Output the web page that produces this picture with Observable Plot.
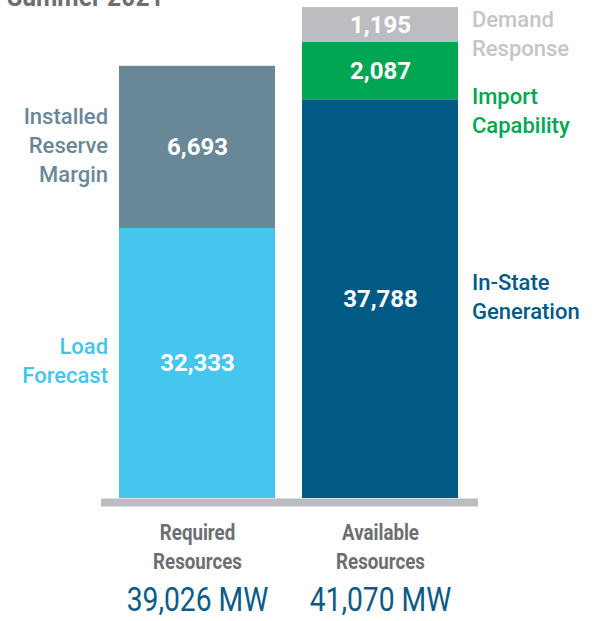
<!DOCTYPE html>
<html><head><meta charset="utf-8">
<script src="https://cdn.jsdelivr.net/npm/d3@7"></script>
<script src="https://cdn.jsdelivr.net/npm/@observablehq/plot@0.6"></script>
<style>
html,body{margin:0;padding:0;background:#fff;overflow:hidden}
#wrap{position:relative;width:596px;height:621px;overflow:hidden}
#title{position:absolute;left:7px;top:-17px;margin:0;font:700 28px/28px Roboto,sans-serif;color:#6d6e71;transform:scaleX(0.88);transform-origin:left top;white-space:nowrap}
#chart{position:absolute;left:0;top:0}
</style></head><body>
<div id="wrap"><div id="chart"></div><h2 id="title"></h2></div>
<script>
// ---- data ----
const titleText = "Summer 2021";
const categories = ["Required Resources", "Available Resources"];
const categoryLabels = ["Required\nResources", "Available\nResources"];
const segmentNames = ["Load Forecast", "Installed Reserve Margin", "In-State Generation", "Import Capability", "Demand Response"];
const segmentCategory = ["Required Resources", "Required Resources", "Available Resources", "Available Resources", "Available Resources"];
const segmentValues = [32333, 6693, 37788, 2087, 1195];
const segmentLabels = ["Load\nForecast", "Installed\nReserve\nMargin", "In-State\nGeneration", "Import\nCapability", "Demand\nResponse"];
const totals = [39026, 41070];
const unit = "MW";

// ---- styles ----
const segmentColors = ["#45c6ee", "#688898", "#005a85", "#00a651", "#bcbdc0"];
const labelColors = ["#45c5ec", "#6a8898", "#005a87", "#00a651", "#c4c5c8"];

const W = 596, H = 621;
const mL = 91, mR = 110, mT = 7, mB = 123;
const pad = 0.147;
const labelSize = 22, labelLH = 1.32, labelGap = 19;

document.getElementById("title").textContent = titleText;

const segments = segmentNames.map((name, i) => ({
  name, cat: segmentCategory[i], value: segmentValues[i],
  label: segmentLabels[i], color: segmentColors[i], labelColor: labelColors[i]
}));
// cumulative stack bounds per category
const acc = new Map();
for (const s of segments) {
  const base = acc.get(s.cat) || 0;
  s.y1 = base; s.y2 = base + s.value;
  acc.set(s.cat, s.y2);
}
const maxTotal = d3.max(acc.values());

const ys = Plot.scale({y: {type: "pow", exponent: 2.5, domain: [0, maxTotal], range: [H - mB, mT]}});
const xs = Plot.scale({x: {type: "band", domain: categories, range: [mL, W - mR], padding: pad}});
const bw = xs.bandwidth;
for (const s of segments) {
  s.py = (ys.apply(s.y1) + ys.apply(s.y2)) / 2;
  s.mid = ys.invert(s.py);
}

// side labels: centred on their segment, pushed down to avoid overlapping (top-down pass)
const lineH = labelSize * labelLH;
for (const cat of categories) {
  const segs = segments.filter(s => s.cat === cat).sort((a, b) => ys.apply(a.y2) - ys.apply(b.y2));
  let prev = null;
  for (const s of segs) {
    const n = s.label.split("\n").length;
    let c = Math.max(s.py - 4, ys.apply(s.y2) + n * lineH / 2 - 4);
    if (prev) c = Math.max(c, prev.c + (prev.n + n) * lineH / 2 + labelGap);
    s.labelY = ys.invert(c);
    prev = {c, n};
  }
}

const fmt = d3.format(",");
const leftSegs = segments.filter(s => s.cat === categories[0]);
const rightSegs = segments.filter(s => s.cat === categories[1]);

const plot = Plot.plot({
  width: W, height: H,
  marginLeft: mL, marginRight: mR, marginTop: mT, marginBottom: mB,
  x: {type: "band", domain: categories, padding: pad, axis: null},
  y: {type: "pow", exponent: 2.5, domain: [0, maxTotal], axis: null},
  color: {type: "identity"},
  style: {fontFamily: "Roboto, sans-serif", background: "white"},
  marks: [
    Plot.barY(segments, {x: "cat", y1: "y1", y2: "y2", fill: "color"}),
    Plot.ruleY([0], {stroke: "#bcbdc0", strokeWidth: 8, dy: 4, insetLeft: 10, insetRight: 8}),
    Plot.text(segments, {x: "cat", y: "mid", text: d => fmt(d.value), fill: "white", fontSize: 24, fontWeight: 700}),
    Plot.text(leftSegs, {x: "cat", y: "labelY", text: "label", fill: "labelColor", textAnchor: "end", dx: -(bw / 2 + 11), fontSize: labelSize, fontWeight: 500, lineHeight: labelLH}),
    Plot.text(rightSegs, {x: "cat", y: "labelY", text: "label", fill: "labelColor", textAnchor: "start", dx: bw / 2 + 13, fontSize: labelSize, fontWeight: 500, lineHeight: labelLH}),
    Plot.text(categories, {x: d => d, text: (d, i) => categoryLabels[i], frameAnchor: "bottom", lineAnchor: "middle", dy: 47, fill: "#6d6e71", fontSize: 22, fontWeight: 700, lineHeight: 1.32}),
    Plot.text(totals, {x: (d, i) => categories[i], text: d => fmt(d) + " " + unit, frameAnchor: "bottom", lineAnchor: "middle", dy: 102, fill: "#0b5a87", fontSize: 34, fontWeight: 400})
  ]
});
document.getElementById("chart").appendChild(plot);

// condensed look for the bottom labels (horizontal squeeze only)
const squeeze = new Map([
  ...categoryLabels.map(s => [s.replace("\n", ""), 0.85]),
  ...totals.map(d => [fmt(d) + " " + unit, 0.83])
]);
d3.select(plot).selectAll("text").each(function () {
  const k = squeeze.get(this.textContent);
  if (!k) return;
  const xa = this.getAttribute("x");
  let tx = 0;
  if (xa && /^-?[\d.]+$/.test(xa)) { tx = +xa; this.removeAttribute("x"); }
  const t = this.getAttribute("transform") || "";
  this.setAttribute("transform", `${t} translate(${tx},0) scale(${k},1)`);
});
</script>
</body></html>
